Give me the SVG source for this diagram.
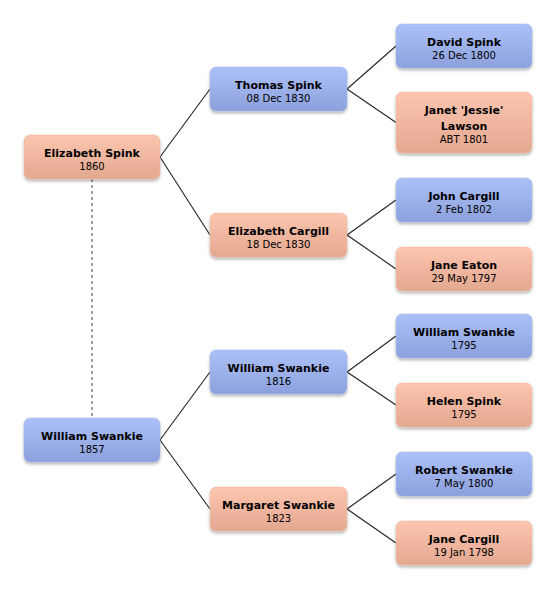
<svg xmlns="http://www.w3.org/2000/svg" width="556" height="590" viewBox="0 0 556 590">
<defs>
<linearGradient id="gb" x1="0" y1="0" x2="0" y2="1">
<stop offset="0" stop-color="#adc1f8"/><stop offset="1" stop-color="#8ca0dc"/>
</linearGradient>
<linearGradient id="gp" x1="0" y1="0" x2="0" y2="1">
<stop offset="0" stop-color="#fdc5af"/><stop offset="1" stop-color="#e3a890"/>
</linearGradient>
<filter id="sh" x="-10%" y="-20%" width="120%" height="150%">
<feDropShadow dx="0" dy="2" stdDeviation="1.8" flood-color="#000" flood-opacity="0.3"/>
</filter>
</defs>
<style>
.m rect{fill:url(#gb);stroke:#9fb2ea;stroke-width:0.5;filter:url(#sh)}
.f rect{fill:url(#gp);stroke:#efb8a2;stroke-width:0.5;filter:url(#sh)}
text{font-family:"DejaVu Sans","Liberation Sans",sans-serif;text-anchor:middle;fill:#000}
.n{font-size:11px;font-weight:bold}
.d{font-size:10px}
.c line{stroke:#222;stroke-width:1.1}
.c .dash{stroke:#666;stroke-dasharray:3 3;stroke-width:1.2}
</style>
<rect width="556" height="590" fill="#fff"/>
<g class="c" id="connectors">
<line class="dash" x1="92" y1="179" x2="92" y2="418"/>
<line x1="160" y1="157" x2="210" y2="89"/>
<line x1="160" y1="157" x2="210" y2="235"/>
<line x1="160" y1="440" x2="210" y2="372"/>
<line x1="160" y1="440" x2="210" y2="509"/>
<line x1="347" y1="89" x2="396" y2="46"/>
<line x1="347" y1="89" x2="396" y2="122.5"/>
<line x1="347" y1="235" x2="396" y2="200"/>
<line x1="347" y1="235" x2="396" y2="269"/>
<line x1="347" y1="372" x2="396" y2="336"/>
<line x1="347" y1="372" x2="396" y2="405"/>
<line x1="347" y1="509" x2="396" y2="474"/>
<line x1="347" y1="509" x2="396" y2="543"/>
</g>
<g id="elizabeth-spink" class="f"><rect x="24" y="135" width="136" height="44" rx="6"/><text class="n" x="92" y="157">Elizabeth Spink</text><text class="d" x="92" y="170">1860</text></g>
<g id="william-swankie-1857" class="m"><rect x="24" y="418" width="136" height="44" rx="6"/><text class="n" x="92" y="440">William Swankie</text><text class="d" x="92" y="453">1857</text></g>
<g id="thomas-spink" class="m"><rect x="210" y="67" width="137" height="44" rx="6"/><text class="n" x="278.5" y="89">Thomas Spink</text><text class="d" x="278.5" y="102">08 Dec 1830</text></g>
<g id="elizabeth-cargill" class="f"><rect x="210" y="213" width="137" height="44" rx="6"/><text class="n" x="278.5" y="235">Elizabeth Cargill</text><text class="d" x="278.5" y="248">18 Dec 1830</text></g>
<g id="william-swankie-1816" class="m"><rect x="210" y="350" width="137" height="44" rx="6"/><text class="n" x="278.5" y="372">William Swankie</text><text class="d" x="278.5" y="385">1816</text></g>
<g id="margaret-swankie" class="f"><rect x="210" y="487" width="137" height="44" rx="6"/><text class="n" x="278.5" y="509">Margaret Swankie</text><text class="d" x="278.5" y="522">1823</text></g>
<g id="david-spink" class="m"><rect x="396" y="24" width="136" height="44" rx="6"/><text class="n" x="464" y="46">David Spink</text><text class="d" x="464" y="59">26 Dec 1800</text></g>
<g id="janet-lawson" class="f"><rect x="396" y="92" width="136" height="61" rx="6"/><text class="n" x="464" y="114">Janet 'Jessie'</text><text class="n" x="464" y="130">Lawson</text><text class="d" x="464" y="143">ABT 1801</text></g>
<g id="john-cargill" class="m"><rect x="396" y="178" width="136" height="44" rx="6"/><text class="n" x="464" y="200">John Cargill</text><text class="d" x="464" y="213">2 Feb 1802</text></g>
<g id="jane-eaton" class="f"><rect x="396" y="247" width="136" height="44" rx="6"/><text class="n" x="464" y="269">Jane Eaton</text><text class="d" x="464" y="282">29 May 1797</text></g>
<g id="william-swankie-1795" class="m"><rect x="396" y="314" width="136" height="44" rx="6"/><text class="n" x="464" y="336">William Swankie</text><text class="d" x="464" y="349">1795</text></g>
<g id="helen-spink" class="f"><rect x="396" y="383" width="136" height="44" rx="6"/><text class="n" x="464" y="405">Helen Spink</text><text class="d" x="464" y="418">1795</text></g>
<g id="robert-swankie" class="m"><rect x="396" y="452" width="136" height="44" rx="6"/><text class="n" x="464" y="474">Robert Swankie</text><text class="d" x="464" y="487">7 May 1800</text></g>
<g id="jane-cargill" class="f"><rect x="396" y="521" width="136" height="44" rx="6"/><text class="n" x="464" y="543">Jane Cargill</text><text class="d" x="464" y="556">19 Jan 1798</text></g>
</svg>
